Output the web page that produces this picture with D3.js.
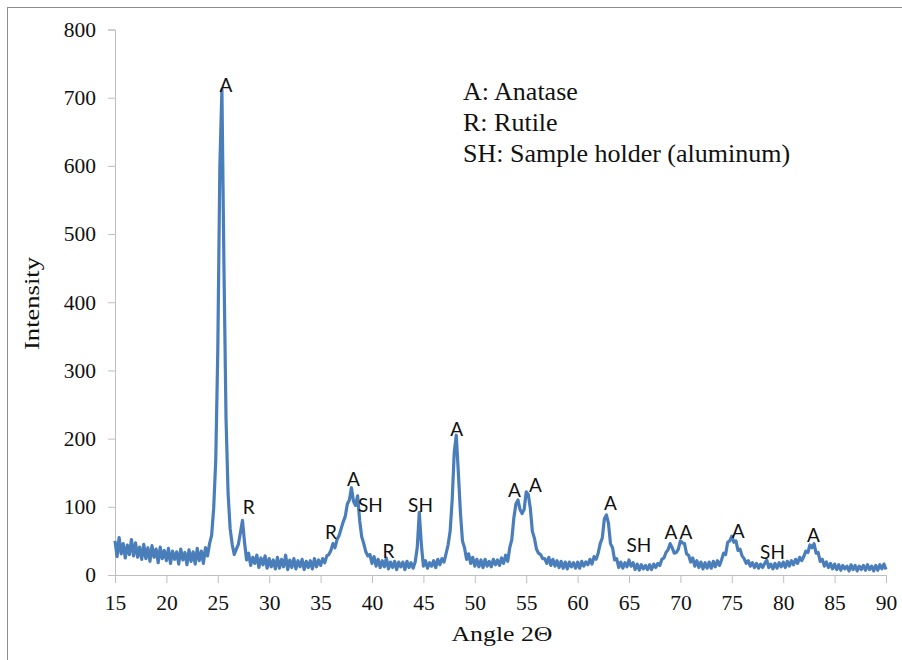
<!DOCTYPE html>
<html>
<head>
<meta charset="utf-8">
<script src="https://cdn.jsdelivr.net/npm/d3@7"></script>
<style>
  html, body { margin: 0; padding: 0; background: #fff; }
  svg { display: block; }
</style>
</head>
<body>
<svg id="chart" width="902" height="660"></svg>
<script>
// ---- Data ----
const angleStart = 15;      // first sampled angle (deg 2θ)
const angleStep = 0.2;      // sampling step of the intensity list
// intensity, 5 samples per degree (x.0, x.2, x.4, x.6, x.8), 15.0 .. 90.0
const intensity = [
  50, 27, 55, 31, 46,   25, 44, 30, 52, 28,   47, 26, 41, 23, 45,   24, 40, 20, 43, 26,   38, 18, 41, 24, 36,
  21, 39, 17, 35, 23,   34, 16, 38, 22, 33,   15, 37, 20, 34, 16,   39, 21, 35, 17, 40,   28, 46, 58, 98, 168,
  330, 600, 712, 450, 230,   120, 68, 45, 30, 38,   45, 62, 80, 48, 22,   32, 14, 26, 17, 29,   11, 25, 15, 28, 10,
  24, 12, 22, 9, 26,   10, 23, 12, 29, 8,   22, 11, 24, 9, 21,   12, 23, 8, 20, 11,   21, 9, 24, 12, 22,
  14, 24, 18, 28, 30,   36, 46, 40, 52, 58,   68, 78, 86, 104, 110,   128, 108, 102, 116, 80,   56, 46, 34, 28, 30,
  17, 27, 13, 23, 11,   21, 12, 25, 9, 19,   11, 20, 8, 19, 12,   19, 8, 20, 11, 18,   10, 19, 40, 92, 45,
  13, 21, 10, 18, 13,   21, 11, 23, 15, 24,   19, 31, 44, 64, 110,   180, 205, 150, 92, 50,   40, 23, 31, 17, 26,
  13, 23, 12, 22, 11,   23, 13, 20, 12, 23,   15, 22, 14, 25, 17,   29, 20, 40, 52, 84,   104, 110, 96, 90, 96,
  122, 118, 98, 64, 54,   38, 32, 30, 24, 24,   17, 26, 14, 23, 13,   21, 11, 20, 10, 19,   9, 19, 12, 18, 10,
  19, 10, 20, 13, 19,   15, 23, 16, 27, 23,   32, 46, 54, 82, 88,   76, 46, 40, 22, 24,   11, 19, 10, 18, 12,
  22, 13, 18, 8, 16,   7, 15, 9, 14, 8,   15, 8, 16, 11, 17,   14, 23, 25, 33, 37,   46, 40, 32, 33, 38,
  50, 47, 46, 31, 29,   19, 25, 13, 21, 11,   19, 9, 18, 10, 19,   10, 20, 12, 21, 14,   22, 32, 30, 48, 50,
  57, 48, 50, 36, 38,   28, 24, 17, 21, 13,   18, 11, 17, 10, 16,   11, 17, 22, 11, 16,   9, 17, 10, 18, 12,
  19, 11, 20, 13, 21,   15, 23, 17, 26, 21,   27, 35, 33, 44, 40,   46, 32, 33, 20, 23,   13, 19, 11, 17, 9,
  16, 8, 15, 7, 14,   9, 13, 6, 15, 8,   14, 6, 13, 8, 14,   7, 15, 8, 13, 6,   14, 7, 15, 9, 16,
  8
];

// Peak labels
const peakLabels    = ["A", "R", "R", "A", "SH", "R", "SH", "A", "A", "A", "A", "SH", "A", "A", "A", "SH", "A"];
const peakAngles    = [25.8, 28.0, 36.0, 38.2, 39.85, 41.6, 44.72, 48.23, 53.86, 55.9, 63.2, 65.97, 69.09, 70.55, 75.63, 78.96, 82.95];
const peakHeights   = [709, 89, 53, 131, 92, 25, 92, 204, 115, 122, 95, 34, 53, 53, 54, 23, 49];

const legendLines = ["A: Anatase", "R: Rutile", "SH: Sample holder (aluminum)"];

const xTicks = [15, 20, 25, 30, 35, 40, 45, 50, 55, 60, 65, 70, 75, 80, 85, 90];
const yTicks = [0, 100, 200, 300, 400, 500, 600, 700, 800];
const xTitle = "Angle 2Θ";
const yTitle = "Intensity";

// ---- Drawing ----
const svg = d3.select("#chart");
const plot = { left: 115, right: 886, top: 29.5, bottom: 575 };

const x = d3.scaleLinear().domain([15, 90]).range([plot.left, plot.right]);
const y = d3.scaleLinear().domain([0, 800]).range([plot.bottom, plot.top]);

// outer frame (top and left edges visible)
svg.append("rect")
  .attr("x", 7.5).attr("y", 7.5)
  .attr("width", 1000).attr("height", 1000)
  .attr("fill", "none").attr("stroke", "#8c8c8c").attr("stroke-width", 1);

const points = intensity.map((v, i) => [angleStart + i * angleStep, v]);

const axisColor = "#bfbfbf";
const serif = "'Liberation Serif', 'Times New Roman', serif";

// X axis
const gx = svg.append("g")
  .attr("transform", `translate(0,${plot.bottom})`)
  .call(d3.axisBottom(x).tickValues(xTicks).tickSize(8).tickPadding(12).tickFormat(d3.format("d")));
gx.select(".domain").attr("stroke", axisColor);
gx.selectAll(".tick line").attr("stroke", axisColor);
gx.selectAll(".tick text")
  .attr("font-family", serif).attr("font-size", 21.5).attr("fill", "#111");

// Y axis
const gy = svg.append("g")
  .attr("transform", `translate(${plot.left},0)`)
  .call(d3.axisLeft(y).tickValues(yTicks).tickSize(7).tickPadding(12).tickFormat(d3.format("d")));
gy.select(".domain").attr("stroke", axisColor);
gy.selectAll(".tick line").attr("stroke", axisColor);
gy.selectAll(".tick text")
  .attr("font-family", serif).attr("font-size", 21.5).attr("fill", "#111");

// Data line
const line = d3.line().x(d => x(d[0])).y(d => y(d[1]));
svg.append("path")
  .datum(points)
  .attr("d", line)
  .attr("fill", "none")
  .attr("stroke", "#4A7EBB")
  .attr("stroke-width", 3.2)
  .attr("stroke-linejoin", "round");

// Peak labels
svg.append("g").selectAll("text")
  .data(peakLabels)
  .join("text")
  .attr("x", (d, i) => x(peakAngles[i]))
  .attr("y", (d, i) => y(peakHeights[i]))
  .attr("text-anchor", "middle")
  .attr("font-family", "Lato, 'Open Sans', sans-serif")
  .attr("font-size", 19)
  .attr("fill", "#111")
  .text(d => d);

// Legend text
svg.append("g").selectAll("text")
  .data(legendLines)
  .join("text")
  .attr("x", 463)
  .attr("y", (d, i) => 100 + i * 31)
  .attr("font-family", serif)
  .attr("font-size", 26)
  .attr("fill", "#111")
  .text(d => d);

// Axis titles
svg.append("text")
  .attr("x", 502).attr("y", 640.5)
  .attr("text-anchor", "middle")
  .attr("font-family", serif)
  .attr("font-size", 20)
  .attr("textLength", 101).attr("lengthAdjust", "spacingAndGlyphs")
  .attr("fill", "#111")
  .text(xTitle);

svg.append("text")
  .attr("transform", "translate(39,303.5) rotate(-90)")
  .attr("text-anchor", "middle")
  .attr("font-family", serif)
  .attr("font-size", 20)
  .attr("textLength", 93).attr("lengthAdjust", "spacingAndGlyphs")
  .attr("fill", "#111")
  .text(yTitle);
</script>
</body>
</html>
